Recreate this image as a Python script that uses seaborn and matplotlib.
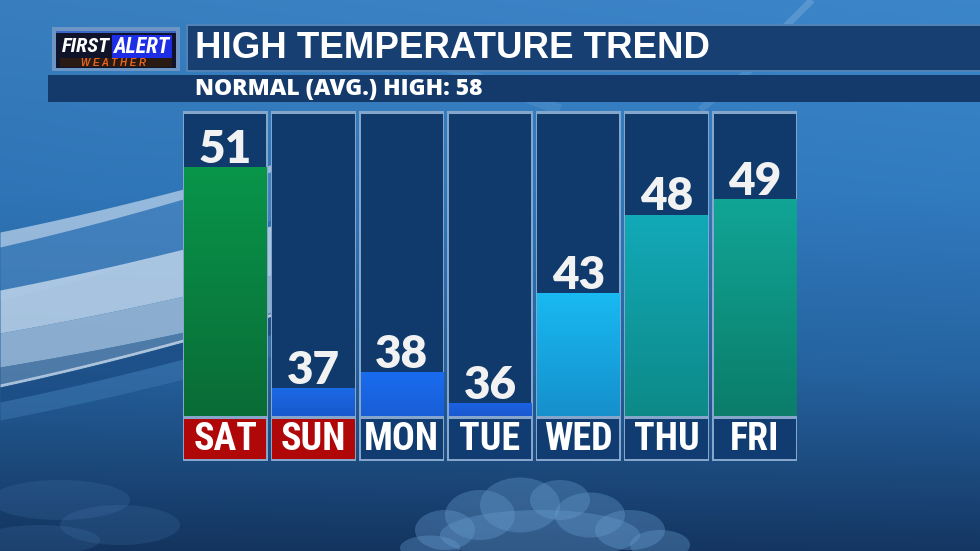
import numpy as np
import matplotlib
matplotlib.use("Agg")
import matplotlib.pyplot as plt
import seaborn as sns
import pandas as pd
from matplotlib import font_manager
from matplotlib.patches import Rectangle, Ellipse
from matplotlib.colors import LinearSegmentedColormap, to_rgb

# ---------------- data ----------------
days = ["SAT", "SUN", "MON", "TUE", "WED", "THU", "FRI"]
highs = [51, 37, 38, 36, 43, 48, 49]
weekend = [True, True, False, False, False, False, False]
bar_top_colors = ["#08954a", "#1c6ae6", "#1a6cf0", "#1c62e2", "#19b9f2", "#12a9b8", "#11a596"]
bar_bottom_colors = ["#0a6c36", "#1858cc", "#185ed6", "#1a58d0", "#1590cc", "#0d8a88", "#0b7d6a"]
title = "HIGH TEMPERATURE TREND"
subtitle = "NORMAL (AVG.) HIGH: 58"
y_lo, y_hi = 35.2, 54.4

sns.set_theme(style="white")
plt.rcParams["font.family"] = ["Liberation Sans", "DejaVu Sans"]


def have(fam, **kw):
    try:
        p = font_manager.findfont(font_manager.FontProperties(family=fam, **kw), fallback_to_default=False)
        return p
    except Exception:
        return None


# pick a condensed bold family if any is installed
COND = None
COND_KW = {}
for fam in ["Roboto Condensed", "Liberation Sans Narrow", "Open Sans Condensed", "Arial Narrow"]:
    if have(fam):
        COND = fam
        break
if COND is None:
    p = have("DejaVu Sans", stretch="condensed", weight="bold")
    if p and "Condensed" in p:
        COND = "DejaVu Sans"
        COND_KW = {"stretch": "condensed"}
if COND is None:
    COND = "Liberation Sans"

NUMF = "Lato" if have("Lato") else "DejaVu Sans"
SUBF = "Open Sans" if have("Open Sans") else NUMF

W, H = 980, 551
fig = plt.figure(figsize=(9.8, 5.51), dpi=100)


def rect(x0, y0, x1, y1):
    return [x0 / W, 1 - y1 / H, (x1 - x0) / W, (y1 - y0) / H]


# ---------------- background ----------------
bg = fig.add_axes([0, 0, 1, 1])
bg.set_xlim(0, W)
bg.set_ylim(H, 0)
bg.axis("off")
yy = np.linspace(0, 1, 300)
xx = np.linspace(0, 1, 400)[None, :]
stops = np.array([to_rgb("#3a82c4"), to_rgb("#3078bb"), to_rgb("#24609c"), to_rgb("#143560")])
pos = np.array([0.0, 0.35, 0.68, 1.0])
grad = np.zeros((300, 400, 3))
for c in range(3):
    col = np.interp(yy, pos, stops[:, c])[:, None]
    grad[:, :, c] = col * (1.0 + 0.05 * (xx - 0.5))
grad = np.clip(grad, 0, 1)
bg.imshow(grad, extent=[0, W, H, 0], aspect="auto", zorder=0)

# swooshes on the left
xs = np.linspace(0, 300, 120)


def band(yl0, yl1, yr0, yr1, color, alpha):
    t = xs / 180.0
    curve = -0.12 * t ** 2
    top = yl0 + (yr0 - yl0) * (t * 0.88 + 0.12 * t ** 2)
    bot = yl1 + (yr1 - yl1) * (t * 0.88 + 0.12 * t ** 2)
    bg.fill_between(xs, top + curve, bot + curve, color=color, alpha=alpha, lw=0, zorder=1)


band(247, 300, 200, 250, "#4f8ac4", 0.6)
band(232, 247, 190, 200, "#b0cbe6", 0.8)
band(290, 333, 250, 297, "#bed4ea", 0.85)
band(333, 367, 297, 333, "#a4c0dc", 0.8)
band(367, 385, 333, 342, "#5f86ad", 0.7)
band(384, 387, 340, 343, "#c7d8ea", 0.8)
band(387, 402, 343, 360, "#1d4d85", 0.8)
band(402, 420, 360, 380, "#3a72aa", 0.6)
# top streaks
for (x0, y0, x1, y1, a, lw) in [(750, 62, 812, 0, 0.2, 5), (700, 110, 760, 62, 0.12, 5),
                                (560, 110, 430, 60, 0.10, 8)]:
    bg.plot([x0, x1], [y0, y1], color="#cfe2f5", lw=lw, alpha=a, zorder=1, solid_capstyle="butt")

# clouds
rng_pts = [(445, 530, 60, 40), (480, 515, 70, 50), (520, 505, 80, 55), (560, 500, 60, 40),
           (590, 515, 70, 45), (630, 530, 70, 40), (660, 545, 60, 30), (430, 548, 60, 25),
           (540, 535, 200, 50)]
for (cx, cy, w, h) in rng_pts:
    bg.add_patch(Ellipse((cx, cy), w, h, color="#6a9fd2", alpha=0.35, lw=0, zorder=1))
for (cx, cy, w, h) in [(60, 500, 140, 40), (120, 525, 120, 40), (40, 540, 120, 30)]:
    bg.add_patch(Ellipse((cx, cy), w, h, color="#4f86bd", alpha=0.18, lw=0, zorder=1))

# ---------------- header ----------------
bg.add_patch(Rectangle((186, 24), W - 186, 48, color="#5283b8", zorder=2, lw=0))
bg.add_patch(Rectangle((188, 26), W - 188, 44, color="#183f72", zorder=2, lw=0))
bg.add_patch(Rectangle((48, 75), W - 48, 27, color="#143a6b", zorder=2, lw=0))
t_title = bg.text(195, 49, title, color="white", fontsize=27, fontweight="bold", va="center", ha="left",
                  family=["Liberation Sans", "DejaVu Sans"], zorder=3)
t_sub = bg.text(195, 89.5, subtitle, color="white", fontsize=16.5, fontweight="heavy", va="center", ha="left",
                family=[SUBF, "DejaVu Sans"], zorder=3)

# logo
bg.add_patch(Rectangle((52, 27), 128, 44, color="#6d95c4", zorder=2, lw=0))
bg.add_patch(Rectangle((56, 31), 120, 37, color="#10142a", zorder=2, lw=0))
bg.add_patch(Rectangle((56, 31), 120, 1.5, color="#3b66c8", zorder=2, lw=0))
bg.add_patch(Rectangle((112, 35), 60, 23, color="#1e2ee6", zorder=2, lw=0))
bg.add_patch(Rectangle((60, 58), 112, 9, color="#2a1a14", zorder=2, lw=0))
t_first = bg.text(86, 47, "FIRST", color="white", fontsize=19, fontweight="bold", style="italic",
                  ha="center", va="center", family=[COND, "DejaVu Sans"], zorder=3, **COND_KW)
t_alert = bg.text(142, 47, "ALERT", color="white", fontsize=19, fontweight="bold", style="italic",
                  ha="center", va="center", family=[COND, "DejaVu Sans"], zorder=3, **COND_KW)
t_wx = bg.text(113, 62.5, "W E A T H E R", color="#e8641e", fontsize=7, fontweight="bold", style="italic",
               ha="center", va="center", family=["Liberation Sans", "DejaVu Sans"], zorder=3)

# ---------------- column frames ----------------
n = len(days)
xpos = np.arange(n)
frame = fig.add_axes(rect(181, 111, 799, 461))
frame.set_xlim(-0.5, n - 0.5)
frame.set_ylim(0, 1)
frame.axis("off")
frame.bar(xpos, [1] * n, width=0.965, bottom=0, color="#85a5ca", lw=0)

# ---------------- bars ----------------
df = pd.DataFrame({"day": days, "high": highs})
ax = fig.add_axes(rect(181, 114, 799, 416))
ax.patch.set_alpha(0)
sns.barplot(data=df, x="day", y="high", hue="day", palette=bar_top_colors, legend=False,
            width=0.933, saturation=1, ax=ax, zorder=3, edgecolor="none", linewidth=0)
bars = list(ax.patches)
ax.bar(xpos, [y_hi] * n, width=0.933, color="#0f3a6b", lw=0, zorder=1)
ax.set_xlim(-0.5, n - 0.5)
ax.set_ylim(y_lo, y_hi)

for p, ctop, cbot, v in zip(bars, bar_top_colors, bar_bottom_colors, highs):
    x0 = p.get_x()
    w = p.get_width()
    top = p.get_y() + p.get_height()
    cmap = LinearSegmentedColormap.from_list("g", [cbot, ctop])
    g = np.linspace(1, 0, 100)[:, None]
    im = ax.imshow(g, extent=[x0, x0 + w, y_lo, top], aspect="auto", cmap=cmap,
                   vmin=0, vmax=1, zorder=4)
    im.set_clip_path(p)
    ax.annotate(str(v), (x0 + w / 2, top), xytext=(0, 3), textcoords="offset points",
                ha="center", va="baseline", color="#f2f2f2", fontsize=33, fontweight="heavy",
                family=[NUMF, "DejaVu Sans"], zorder=6)

ax.set_xlim(-0.5, n - 0.5)
ax.set_ylim(y_lo, y_hi)
ax.axis("off")

# ---------------- day labels ----------------
lab = fig.add_axes(rect(181, 419, 799, 458.5))
lab.set_xlim(-0.5, n - 0.5)
lab.set_ylim(0, 1)
lab.axis("off")
lab.bar(xpos, [1] * n, width=0.933, color=["#b00808" if w else "#113c72" for w in weekend], lw=0)
day_texts = []
for i, d in enumerate(days):
    day_texts.append(lab.text(i, 0.47, d, color="white", fontsize=32, fontweight="bold", ha="center",
                              va="center", family=[COND, "DejaVu Sans"], **COND_KW))

# ---------------- fit text widths to the reference ----------------
fig.canvas.draw()
r = fig.canvas.get_renderer()


def fit(t, target):
    wcur = t.get_window_extent(r).width
    if wcur > target:
        t.set_fontsize(t.get_fontsize() * target / wcur)


fit(t_title, 513)
fit(t_sub, 296)
fit(t_first, 48)
fit(t_alert, 56)
fit(t_wx, 98)
mon = day_texts[days.index("MON")]
wm = mon.get_window_extent(r).width
if wm > 75:
    s = mon.get_fontsize() * 75 / wm
    for t in day_texts:
        t.set_fontsize(s)

fig.savefig("out.png", dpi=100)
